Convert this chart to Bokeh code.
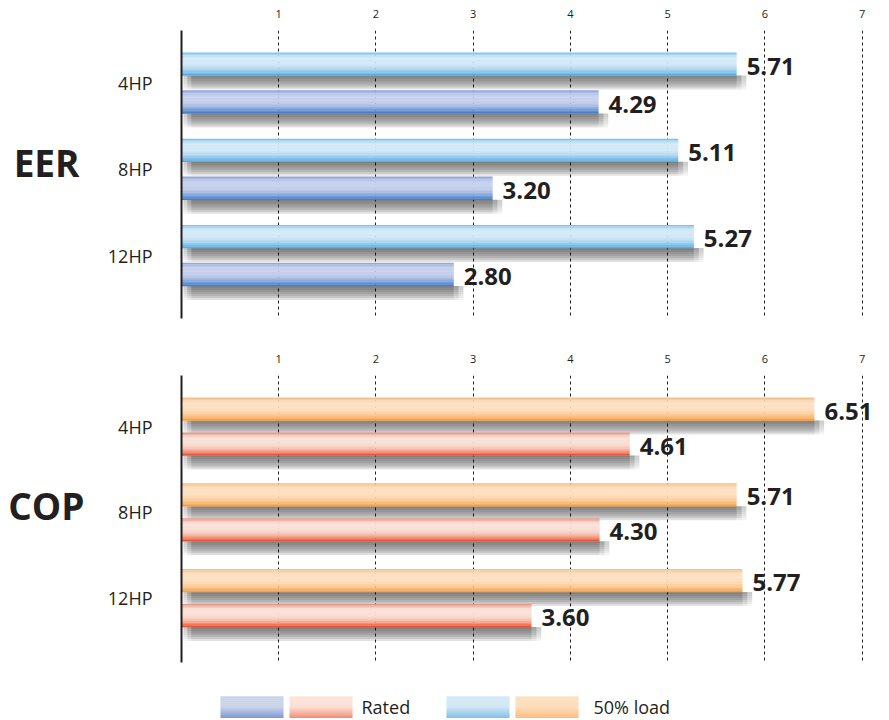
from bokeh.plotting import figure
from bokeh.models import ColumnDataSource, Range1d, FixedTicker, Label, LinearAxis
from bokeh.transform import dodge
from bokeh.layouts import column
from bokeh.embed import file_html
from bokeh.resources import INLINE
from bokeh.core.properties import value

# ---------------- data ----------------
categories = ["4HP", "8HP", "12HP"]
eer_rated = [4.29, 3.20, 2.80]
eer_load = [5.71, 5.11, 5.27]
cop_rated = [4.61, 4.30, 3.60]
cop_load = [6.51, 5.71, 5.77]
x_ticks = [1, 2, 3, 4, 5, 6, 7]
panel_titles = ["EER", "COP"]
series_names = ["Rated", "50% load"]

FONT = "Open Sans"
TXT = "#231f20"


def hex2rgb(h):
    h = h.lstrip("#")
    return tuple(int(h[i:i + 2], 16) for i in (0, 2, 4))


def profile(stops, n):
    out = []
    for k in range(n):
        t = (k + 0.5) / n
        for (p0, c0), (p1, c1) in zip(stops[:-1], stops[1:]):
            if p0 <= t <= p1:
                f = (t - p0) / (p1 - p0) if p1 > p0 else 0
                a, b = hex2rgb(c0), hex2rgb(c1)
                rgb = [round(a[i] + (b[i] - a[i]) * f) for i in range(3)]
                out.append("#%02x%02x%02x" % tuple(rgb))
                break
    return out


BLUE_LOAD = [(0, "#6fb9e8"), (0.12, "#b9dcf3"), (0.25, "#d6eaf8"), (0.55, "#d0e7f6"),
             (0.75, "#a7d3f0"), (0.9, "#78bde9"), (1, "#4aa7e0")]
BLUE_RATED = [(0, "#8a9dd3"), (0.12, "#b4c2e6"), (0.25, "#c8d2ec"), (0.55, "#c2cdea"),
              (0.75, "#95afdf"), (0.9, "#6290d5"), (1, "#3a77ca")]
ORANGE_LOAD = [(0, "#f6b877"), (0.12, "#fad3aa"), (0.25, "#fde2c6"), (0.55, "#fdddbc"),
               (0.75, "#fbcb98"), (0.9, "#f8b46a"), (1, "#f39a35")]
RED_RATED = [(0, "#d98a7c"), (0.12, "#f1c3b6"), (0.25, "#fbe3da"), (0.55, "#f9dbd0"),
             (0.75, "#f6b8a4"), (0.9, "#f27b5c"), (1, "#ec4325")]

NSTRIPE = 16
FRAME_LEFT = 181
FIG_W = 881


def make_panel(title, rated, load, y_start, y_end, off, bar_h, px_unit, height,
               b_top, b_bottom, rated_stops, load_stops, title_y, title_standoff):
    p = figure(width=FIG_W, height=height, x_range=Range1d(0, 7.2),
               y_range=Range1d(y_start, y_end), x_axis_location="above",
               output_backend="svg", toolbar_location=None,
               min_border_left=FRAME_LEFT, min_border_right=0,
               min_border_top=b_top, min_border_bottom=b_bottom)
    p.outline_line_color = None
    p.background_fill_color = "white"
    p.border_fill_color = "white"

    sh_ext = [0.0, 0.05, 0.1]
    data = dict(
        cat=categories,
        y=list(range(len(categories))),
        rated=rated,
        load=load,
        rated_lbl=[f"{v:.2f}" for v in rated],
        load_lbl=[f"{v:.2f}" for v in load],
    )
    for j, e in enumerate(sh_ext):
        data[f"rated_sh{j}"] = [v + e for v in rated]
        data[f"load_sh{j}"] = [v + e for v in load]
    src = ColumnDataSource(data)

    # x axis (top) + dashed grid
    p.xaxis.ticker = FixedTicker(ticks=x_ticks)
    p.xgrid.ticker = FixedTicker(ticks=x_ticks)
    p.xaxis.axis_line_color = None
    p.xaxis.major_tick_line_color = None
    p.xaxis.minor_tick_line_color = None
    p.xaxis.major_label_standoff = 7
    p.xaxis.major_label_text_font = FONT
    p.xaxis.major_label_text_font_size = "11px"
    p.xaxis.major_label_text_color = TXT
    p.xgrid.grid_line_color = TXT
    p.xgrid.grid_line_dash = "3 3"
    p.xgrid.grid_line_width = 1
    p.ygrid.visible = False

    # y axis (categories)
    p.yaxis.ticker = FixedTicker(ticks=list(range(len(categories))))
    p.yaxis.major_label_overrides = {i: c for i, c in enumerate(categories)}
    p.yaxis.axis_line_color = TXT
    p.yaxis.axis_line_width = 2
    p.yaxis.major_tick_line_color = None
    p.yaxis.minor_tick_line_color = None
    p.yaxis.major_label_standoff = 23
    p.yaxis.major_label_text_font = FONT
    p.yaxis.major_label_text_font_size = "18px"
    p.yaxis.major_label_text_color = TXT

    # panel title as an outer left axis with a single labelled tick
    tax = LinearAxis(ticker=FixedTicker(ticks=[title_y]),
                     major_label_overrides={title_y: title},
                     axis_line_color=None, major_tick_line_color=None,
                     minor_tick_line_color=None, major_label_standoff=title_standoff,
                     major_label_text_font=FONT, major_label_text_font_style="bold",
                     major_label_text_font_size="37px", major_label_text_color=TXT)
    p.add_layout(tax, "left")

    shadow_alphas = [0.36, 0.33, 0.29, 0.25, 0.2, 0.14, 0.07]
    sh_h = 2.0 / px_unit
    for field, o, stops in (("load", -off, load_stops), ("rated", off, rated_stops)):
        # soft shadow below the bar, fading out past the bar end
        for k, a in enumerate(shadow_alphas):
            dy = o + bar_h / 2 + (k + 0.5) * sh_h
            for j, lft in enumerate([0.02, 0.06, 0.1]):
                p.hbar(y=dodge("y", dy), left=lft, right=f"{field}_sh{j}",
                       height=sh_h * 1.02, fill_color="#000000", fill_alpha=a / 1.8,
                       line_color=None, source=src)
        # cylindrical gradient bar
        cols = profile(stops, NSTRIPE)
        sh = bar_h / NSTRIPE
        for k, c in enumerate(cols):
            dy = o - bar_h / 2 + (k + 0.5) * sh
            p.hbar(y=dodge("y", dy), left=0, right=field, height=sh * 1.2,
                   fill_color=c, line_color=None, source=src)
        p.text(x=field, y=dodge("y", o), text=field + "_lbl", x_offset=10, y_offset=2,
               text_font=value(FONT), text_font_style="bold", text_font_size="24px",
               text_color=TXT, text_baseline="middle", text_align="left", source=src)
    return p


p1 = make_panel(panel_titles[0], eer_rated, eer_load, 2.730, -0.609, 0.22, 0.267, 86.25,
                346, 30, 28, BLUE_RATED, BLUE_LOAD, 0.916, 19)
p2 = make_panel(panel_titles[1], cop_rated, cop_load, 2.752, -0.595, 0.204, 0.268, 85.75,
                334, 29, 18, RED_RATED, ORANGE_LOAD, 0.921, 14)

# ---------------- legend strip (coordinates in page pixels) ----------------
LG_H = 38
lg = figure(width=FIG_W, height=LG_H, x_range=Range1d(FRAME_LEFT, FIG_W),
            y_range=Range1d(LG_H, 0), output_backend="svg", toolbar_location=None,
            min_border_left=FRAME_LEFT, min_border_right=0,
            min_border_top=0, min_border_bottom=0)
lg.axis.visible = False
lg.grid.visible = False
lg.outline_line_color = None

swatches = [
    (220, 283, [(0, "#cdd5ea"), (0.45, "#c9d2ea"), (1, "#6a8acb")]),
    (289, 352, [(0, "#fde5dc"), (0.45, "#fcdfd4"), (1, "#f3765a")]),
    (446, 509, [(0, "#d5e8f6"), (0.45, "#d1e6f5"), (1, "#6cb6e4")]),
    (515, 578, [(0, "#fde1c2"), (0.45, "#fddcb8"), (1, "#fbb46a")]),
]
LN = 12
top, bot = 16, 40
for l, r, stops in swatches:
    cols = profile(stops, LN)
    h = (bot - top) / LN
    for k, c in enumerate(cols):
        lg.quad(left=l, right=r, top=top + k * h - 0.2, bottom=top + (k + 1) * h + 0.2,
                fill_color=c, line_color=None)
for xx, t in zip([361, 593], series_names):
    lg.add_layout(Label(x=xx, y=26, text=t, text_font=FONT, text_font_size="18px",
                        text_color=TXT, text_baseline="middle", text_align="left"))

layout = column(p1, p2, lg, spacing=0)
open("out.html", "w").write(file_html(layout, INLINE))
